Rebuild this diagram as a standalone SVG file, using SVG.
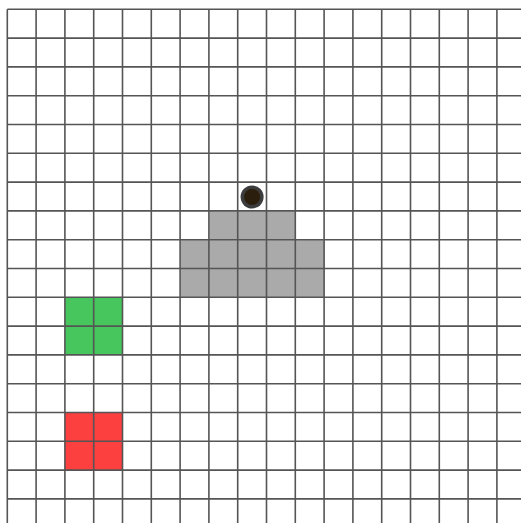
<svg xmlns="http://www.w3.org/2000/svg" width="521" height="523" viewBox="0 0 521 523">
<style>
.gray{fill:#aaaaaa}
.green{fill:#47c65d}
.red{fill:#fc4040}
.grid line{stroke:#555555;stroke-width:1.6}
</style>
<rect width="521" height="523" fill="#ffffff"/>
<g id="obstacle">
<rect class="gray" x="209.3" y="211.3" width="86.4" height="28.8"/>
<rect class="gray" x="180.5" y="240.1" width="144" height="57.6"/>
</g>
<g id="start">
<rect class="green" x="64.9" y="297.3" width="57.6" height="57.6"/>
</g>
<g id="goal">
<rect class="red" x="64.9" y="412.5" width="57.6" height="57.6"/>
</g>
<g class="grid" id="grid">
<line x1="7.3" y1="9.3" x2="7.3" y2="523"/>
<line x1="36.1" y1="9.3" x2="36.1" y2="523"/>
<line x1="64.9" y1="9.3" x2="64.9" y2="523"/>
<line x1="93.7" y1="9.3" x2="93.7" y2="523"/>
<line x1="122.5" y1="9.3" x2="122.5" y2="523"/>
<line x1="151.3" y1="9.3" x2="151.3" y2="523"/>
<line x1="180.1" y1="9.3" x2="180.1" y2="523"/>
<line x1="208.9" y1="9.3" x2="208.9" y2="523"/>
<line x1="237.7" y1="9.3" x2="237.7" y2="523"/>
<line x1="266.5" y1="9.3" x2="266.5" y2="523"/>
<line x1="295.3" y1="9.3" x2="295.3" y2="523"/>
<line x1="324.1" y1="9.3" x2="324.1" y2="523"/>
<line x1="352.9" y1="9.3" x2="352.9" y2="523"/>
<line x1="381.7" y1="9.3" x2="381.7" y2="523"/>
<line x1="410.5" y1="9.3" x2="410.5" y2="523"/>
<line x1="439.3" y1="9.3" x2="439.3" y2="523"/>
<line x1="468.1" y1="9.3" x2="468.1" y2="523"/>
<line x1="496.9" y1="9.3" x2="496.9" y2="523"/>
<line x1="7.3" y1="9.3" x2="521" y2="9.3"/>
<line x1="7.3" y1="38.1" x2="521" y2="38.1"/>
<line x1="7.3" y1="66.9" x2="521" y2="66.9"/>
<line x1="7.3" y1="95.7" x2="521" y2="95.7"/>
<line x1="7.3" y1="124.5" x2="521" y2="124.5"/>
<line x1="7.3" y1="153.3" x2="521" y2="153.3"/>
<line x1="7.3" y1="182.1" x2="521" y2="182.1"/>
<line x1="7.3" y1="210.9" x2="521" y2="210.9"/>
<line x1="7.3" y1="239.7" x2="521" y2="239.7"/>
<line x1="7.3" y1="268.5" x2="521" y2="268.5"/>
<line x1="7.3" y1="297.3" x2="521" y2="297.3"/>
<line x1="7.3" y1="326.1" x2="521" y2="326.1"/>
<line x1="7.3" y1="354.9" x2="521" y2="354.9"/>
<line x1="7.3" y1="383.7" x2="521" y2="383.7"/>
<line x1="7.3" y1="412.5" x2="521" y2="412.5"/>
<line x1="7.3" y1="441.3" x2="521" y2="441.3"/>
<line x1="7.3" y1="470.1" x2="521" y2="470.1"/>
<line x1="7.3" y1="498.9" x2="521" y2="498.9"/>
</g>
<g id="agent">
<circle cx="252.1" cy="197" r="11.5" fill="#3c3c3c"/>
<circle cx="252.1" cy="197" r="8" fill="#2b1e0c"/>
</g>
</svg>
